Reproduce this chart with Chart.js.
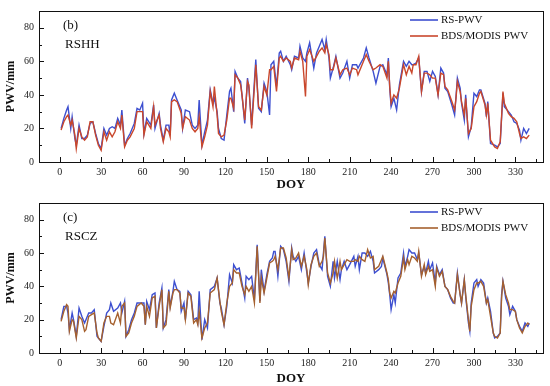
<!DOCTYPE html>
<html>
<head>
<meta charset="utf-8">
<script src="https://cdn.jsdelivr.net/npm/chart.js@4.4.1/dist/chart.umd.min.js"></script>
<style>
  html, body { margin: 0; padding: 0; background: #fff; }
  #wrap { position: relative; width: 550px; height: 386px; }
  .panel { position: absolute; left: 0; width: 550px; }
</style>
</head>
<body>
<div id="wrap">
  <div class="panel" style="top:0;height:192px"><canvas id="chartB" width="550" height="192"></canvas></div>
  <div class="panel" style="top:192px;height:194px"><canvas id="chartC" width="550" height="194"></canvas></div>
</div>
<script>
// ---- data ----
const seriesNames = ["RS-PWV", "BDS/MODIS PWV"];
const xTickValues = [0, 15, 30, 45, 60, 75, 90, 105, 120, 135, 150, 165, 180, 195, 210, 225, 240, 255, 270, 285, 300, 315, 330, 345];
const yTickValues = [0, 10, 20, 30, 40, 50, 60, 70, 80, 90];

// panel (b) RSHH
const daysB = [1,3,5,6,8,9,11,12,14,16,18,20,22,24,26,28,30,32,34,36,38,40,42,44,45,47,49,51,54,56,58,60,61,63,66,68,69,72,73,75,77,79,80,81,83,85,88,89,91,94,96,98,100,101,103,105,107,109,111,112,114,115,117,119,121,123,124,126,127,129,131,132,134,136,137,139,141,142,144,146,148,150,152,153,155,157,159,160,162,164,167,168,170,173,174,176,178,179,181,184,186,188,190,192,193,195,196,198,200,203,205,208,210,212,215,216,220,222,224,227,229,232,234,237,238,239,240,242,244,246,249,251,253,255,256,258,260,262,264,266,268,270,272,274,276,278,279,281,284,286,287,288,290,291,293,294,296,298,300,302,304,305,308,309,310,312,315,317,319,321,322,325,327,329,331,333,334,336,338,340];
const rsB = [20,26,31,33,20,27,14,10,22,14,14,16,23,24,17,11,8,20,16,20,21,20,26,22,31,10,14,17,23,32,31,35,17,26,22,34,20,29,22,13,22,22,16,37,41,37,31,20,31,30,22,20,22,37,10,18,25,43,35,38,30,20,14,13,28,42,44,30,54,50,48,40,23,50,44,22,48,61,32,30,47,42,28,58,60,45,65,66,60,63,58,55,63,62,69,62,60,65,71,56,65,69,73,67,73,62,50,56,63,50,53,60,50,58,58,56,62,68,62,54,47,57,58,52,62,44,33,38,31,46,60,57,60,58,58,59,62,42,54,54,48,54,51,40,56,53,44,42,34,28,39,50,44,35,25,40,15,21,41,39,43,43,35,27,36,11,10,9,11,41,33,30,28,24,23,19,13,20,17,20];
const bdsB = [19,24,27,28,22,25,16,8,20,15,13,15,24,24,16,10,7,18,13,18,15,18,24,20,28,9,13,15,20,30,30,30,16,24,20,33,22,28,20,12,20,18,15,36,37,36,29,20,27,25,20,18,20,27,9,15,22,42,33,45,28,17,15,16,25,38,38,32,52,50,46,40,25,48,46,20,45,58,33,31,45,40,55,55,57,42,62,63,60,62,60,56,62,61,66,60,39,63,67,60,63,66,68,65,70,64,55,55,62,52,55,56,52,56,55,52,60,64,60,55,56,58,57,50,60,45,35,40,38,44,58,52,57,53,58,58,63,42,53,53,52,50,50,40,53,52,45,43,36,31,38,48,42,36,28,38,17,20,33,36,41,42,34,28,35,13,9,8,12,42,35,29,27,26,24,17,14,15,14,16];

// panel (c) RSCZ
const daysC = [1,3,5,6,7,9,10,12,14,16,18,19,21,23,25,27,28,30,32,34,36,37,39,42,44,45,47,48,50,52,54,56,59,61,62,63,65,67,69,70,72,74,75,77,79,80,82,83,85,87,88,90,91,93,95,97,99,100,101,103,105,107,109,112,114,116,117,119,121,123,125,126,128,130,132,134,135,137,139,141,143,145,146,148,150,152,154,155,156,158,160,162,164,166,168,169,171,173,175,177,179,180,182,184,186,188,190,191,192,194,196,198,199,201,203,204,206,208,210,213,214,216,217,219,221,223,225,227,228,231,233,234,237,238,239,240,242,243,245,247,249,250,252,253,255,257,259,260,262,264,265,267,268,270,272,273,275,277,279,281,283,285,286,288,290,291,293,294,296,297,298,300,302,303,305,307,309,310,312,314,315,317,319,320,321,323,325,326,328,330,331,333,335,337,339,340];
const rsC = [20,28,28,24,14,24,20,10,27,22,18,20,24,24,26,10,9,7,16,24,26,30,25,27,30,24,31,10,14,20,24,30,30,30,17,31,26,35,36,15,30,39,15,20,38,28,37,43,38,37,25,30,20,37,35,20,21,18,37,8,20,15,38,40,45,30,27,17,28,47,42,53,50,51,42,33,46,44,46,32,65,31,50,37,47,55,57,61,61,46,64,62,55,43,63,58,55,58,50,60,48,42,52,60,62,53,50,60,70,46,40,55,45,55,44,50,55,50,53,58,52,58,50,60,60,58,61,55,48,50,52,57,47,42,35,26,35,30,45,48,60,52,58,62,60,60,56,60,47,52,48,55,50,54,42,52,47,50,40,38,33,30,30,48,35,30,44,34,18,13,30,42,44,40,44,42,30,33,25,12,9,10,12,35,43,33,28,23,28,25,20,16,13,18,16,18];
const bdsC = [19,25,29,28,13,20,19,9,22,20,13,14,22,23,24,12,9,7,18,22,22,18,17,24,18,28,30,10,12,18,22,28,30,28,17,28,22,33,34,15,28,38,15,17,37,27,36,38,38,36,27,27,20,36,34,18,20,17,25,9,15,18,36,38,45,31,25,17,30,40,42,50,48,48,40,35,40,37,40,30,64,30,45,36,45,54,55,56,58,50,63,63,57,45,62,56,57,60,52,58,50,41,53,58,60,52,55,58,69,48,42,48,55,45,55,50,53,56,55,55,56,55,58,56,55,62,57,58,50,52,56,58,48,44,36,33,37,36,42,46,57,50,56,53,58,57,55,61,46,53,47,52,49,50,40,51,46,49,40,38,34,31,30,47,35,30,44,35,20,13,28,38,42,42,43,40,30,32,22,12,10,9,12,33,43,35,30,26,26,25,20,15,12,16,18,17];

// ---- look ----
const SERIF = "'Liberation Serif', 'DejaVu Serif', serif";
const BLUE = "#3d4fd0";

function toPoints(days, vals) {
    return days.map((d, i) => ({ x: d, y: vals[i] }));
}

// frame, inward ticks, panel labels and legend
const framePlugin = {
    id: "frame",
    afterDraw(chart, args, opts) {
        const ctx = chart.ctx;
        const a = chart.chartArea;
        const x = chart.scales.x, y = chart.scales.y;
        ctx.save();
        ctx.strokeStyle = "#111";
        ctx.lineWidth = 1;
        ctx.strokeRect(Math.round(a.left) + 0.5, Math.round(a.top) + 0.5,
            Math.round(a.right - a.left), Math.round(a.bottom - a.top));

        ctx.beginPath();
        xTickValues.forEach(v => {
            const px = Math.round(x.getPixelForValue(v)) + 0.5;
            const len = v % 30 === 0 ? 5 : 3;
            ctx.moveTo(px, a.bottom);
            ctx.lineTo(px, a.bottom - len);
        });
        yTickValues.forEach(v => {
            const py = Math.round(y.getPixelForValue(v)) + 0.5;
            const len = v % 20 === 0 ? 5 : 3;
            ctx.moveTo(a.left, py);
            ctx.lineTo(a.left + len, py);
        });
        ctx.stroke();

        // panel tag and station name
        ctx.fillStyle = "#111";
        ctx.font = "13px " + SERIF;
        ctx.textBaseline = "middle";
        ctx.textAlign = "left";
        ctx.fillText(opts.tag, a.left + 24, a.top + 15);
        ctx.fillText(opts.station, a.left + 26, a.top + 34);

        // legend
        ctx.font = "11px " + SERIF;
        chart.data.datasets.forEach((ds, i) => {
            const row = a.top + (ds.label === seriesNames[0] ? 9 : 25);
            ctx.strokeStyle = ds.borderColor;
            ctx.lineWidth = 1.6;
            ctx.beginPath();
            ctx.moveTo(410, row);
            ctx.lineTo(438, row);
            ctx.stroke();
            ctx.fillStyle = "#111";
            ctx.fillText(ds.label, 441, row);
        });
        ctx.restore();
    }
};

function makePanel(canvasId, days, rs, bds, bdsColor, tag, station, padTop, xHeight) {
    const ctx = document.getElementById(canvasId);
    return new Chart(ctx, {
        type: "line",
        data: {
            datasets: [
                {
                    label: seriesNames[1],
                    data: toPoints(days, bds),
                    borderColor: bdsColor,
                    borderWidth: 1.4,
                    pointRadius: 0,
                    tension: 0,
                    order: 0,
                },
                {
                    label: seriesNames[0],
                    data: toPoints(days, rs),
                    borderColor: BLUE,
                    borderWidth: 1.4,
                    pointRadius: 0,
                    tension: 0,
                    order: 1,
                },
            ],
        },
        options: {
            responsive: false,
            animation: false,
            devicePixelRatio: 1,
            layout: { padding: { top: padTop, right: 7, left: 0, bottom: 0 } },
            plugins: {
                legend: { display: false },
                tooltip: { enabled: false },
                frame: { tag: tag, station: station },
            },
            scales: {
                x: {
                    type: "linear",
                    min: -15,
                    max: 350,
                    grid: { display: false, drawTicks: false },
                    border: { display: false },
                    afterBuildTicks: s => { s.ticks = xTickValues.map(v => ({ value: v })); },
                    afterFit: s => { s.height = xHeight; },
                    ticks: {
                        autoSkip: false,
                        maxRotation: 0,
                        padding: 4,
                        color: "#222",
                        font: { family: SERIF, size: 10 },
                        callback: v => (v % 30 === 0 ? String(v) : ""),
                    },
                    title: {
                        display: true,
                        text: "DOY",
                        color: "#111",
                        padding: { top: 0, bottom: 0 },
                        font: { family: SERIF, size: 13, weight: "bold" },
                    },
                },
                y: {
                    min: 0,
                    max: 90,
                    grid: { display: false, drawTicks: false },
                    border: { display: false },
                    afterBuildTicks: s => { s.ticks = yTickValues.map(v => ({ value: v })); },
                    afterFit: s => { s.width = 39; },
                    ticks: {
                        autoSkip: false,
                        padding: 5,
                        color: "#222",
                        font: { family: SERIF, size: 10 },
                        callback: v => (v % 20 === 0 && v <= 80 ? String(v) : ""),
                    },
                    title: {
                        display: true,
                        text: "PWV/mm",
                        color: "#111",
                        font: { family: SERIF, size: 12, weight: "bold" },
                    },
                },
            },
        },
        plugins: [framePlugin],
    });
}

makePanel("chartB", daysB, rsB, bdsB, "#c9472c", "(b)", "RSHH", 8, 30);
makePanel("chartC", daysC, rsC, bdsC, "#a5602e", "(c)", "RSCZ", 6, 33);
</script>
</body>
</html>
